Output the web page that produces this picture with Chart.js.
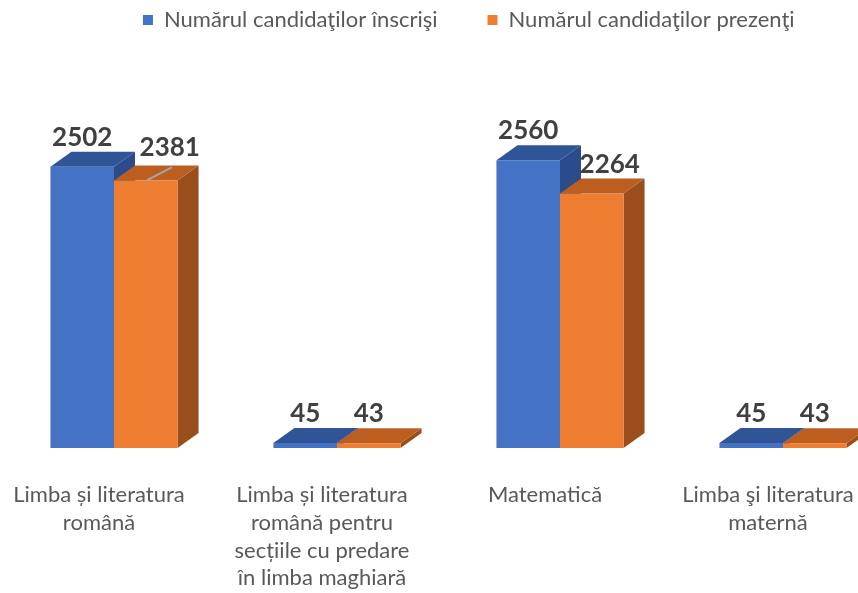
<!DOCTYPE html>
<html lang="ro">
<head>
<meta charset="UTF-8">
<title>Candidați înscriși și prezenți</title>
<script src="https://cdn.jsdelivr.net/npm/chart.js"></script>
<style>
  html, body { margin: 0; padding: 0; overflow: hidden; background: #fff; }
</style>
</head>
<body>
<canvas id="myChart" width="940" height="593"></canvas>
<script>
const categories = [
  ['Limba și literatura', 'română'],
  ['Limba și literatura', 'română pentru', 'secțiile cu predare', 'în limba maghiară'],
  'Matematică',
  ['Limba şi literatura', 'maternă']
];
const seriesNames = ['Numărul candidaţilor înscrişi', 'Numărul candidaţilor prezenţi'];
const inscrisi = [2502, 45, 2560, 45];
const prezenti = [2381, 43, 2264, 43];

// fake 3D depth of the bars
const DX = 21, DY = -15;
const faces = [
  { front: '#4472C4', top: '#2F5597', side: '#2B4C8A' },
  { front: '#ED7D31', top: '#BC5E20', side: '#9A4E1C' }
];
// value labels that Excel moved aside [dx, dy]
const labelNudge = [
  [[0, 0], [0, 0], [0, 0], [0, 0]],
  [[24, -3], [0, 0], [18, 0], [0, 0]]
];

const depthPlugin = {
  id: 'depth',
  beforeDatasetsDraw(chart) {
    const ctx = chart.ctx;
    ctx.save();
    chart.data.datasets.forEach((ds, i) => {
      chart.getDatasetMeta(i).data.forEach(bar => {
        const { x, y, base, width } = bar.getProps(['x', 'y', 'base', 'width'], true);
        const l = x - width / 2, r = x + width / 2;
        ctx.fillStyle = faces[i].side;
        ctx.beginPath();
        ctx.moveTo(r, y); ctx.lineTo(r + DX, y + DY);
        ctx.lineTo(r + DX, base + DY); ctx.lineTo(r, base);
        ctx.closePath(); ctx.fill();
        ctx.fillStyle = faces[i].top;
        ctx.beginPath();
        ctx.moveTo(l, y); ctx.lineTo(l + DX, y + DY);
        ctx.lineTo(r + DX, y + DY); ctx.lineTo(r, y);
        ctx.closePath(); ctx.fill();
      });
    });
    ctx.restore();
  },
  afterDatasetsDraw(chart) {
    const ctx = chart.ctx;
    ctx.save();
    ctx.font = 'bold 26px Lato';
    ctx.fillStyle = '#404040';
    ctx.textAlign = 'center';
    ctx.textBaseline = 'alphabetic';
    chart.data.datasets.forEach((ds, i) => {
      chart.getDatasetMeta(i).data.forEach((bar, j) => {
        const [nx, ny] = labelNudge[i][j];
        ctx.fillText(String(ds.data[j]), bar.x + nx, bar.y + DY - 6 + ny);
      });
    });
    // leader line for the moved 2381 label
    const b = chart.getDatasetMeta(1).data[0];
    ctx.strokeStyle = '#A6A6A6';
    ctx.lineWidth = 2;
    ctx.beginPath();
    ctx.moveTo(b.x + 1, b.y);
    ctx.lineTo(b.x + 26, b.y - 13);
    ctx.stroke();
    ctx.restore();
  }
};

const ctx = document.getElementById('myChart').getContext('2d');
new Chart(ctx, {
  type: 'bar',
  data: {
    labels: categories,
    datasets: [
      { label: seriesNames[0], data: inscrisi, backgroundColor: faces[0].front, borderWidth: 0 },
      { label: seriesNames[1], data: prezenti, backgroundColor: faces[1].front, borderWidth: 0 }
    ]
  },
  options: {
    responsive: false,
    animation: false,
    barPercentage: 1,
    categoryPercentage: 0.57,
    layout: { padding: { top: -41, left: 2.5, right: 5, bottom: 0 } },
    plugins: {
      tooltip: { enabled: false },
      legend: {
        position: 'top',
        labels: {
          boxWidth: 10,
          boxHeight: 10,
          padding: 50,
          color: '#595959',
          font: { family: 'Lato', size: 22 }
        }
      }
    },
    scales: {
      x: {
        grid: { display: false },
        border: { display: false },
        ticks: {
          color: '#595959',
          font: { family: 'Lato', size: 22, lineHeight: 1.264 },
          padding: 25,
          labelOffset: -15,
          autoSkip: false,
          maxRotation: 0
        },
        afterFit(scale) { scale.height = 145; }
      },
      y: {
        position: 'right',
        min: 0,
        max: 3621,
        grid: { display: false },
        border: { display: false },
        ticks: { display: false },
        afterFit(scale) { scale.width = 40.5; }
      }
    }
  },
  plugins: [depthPlugin]
});
</script>
</body>
</html>
